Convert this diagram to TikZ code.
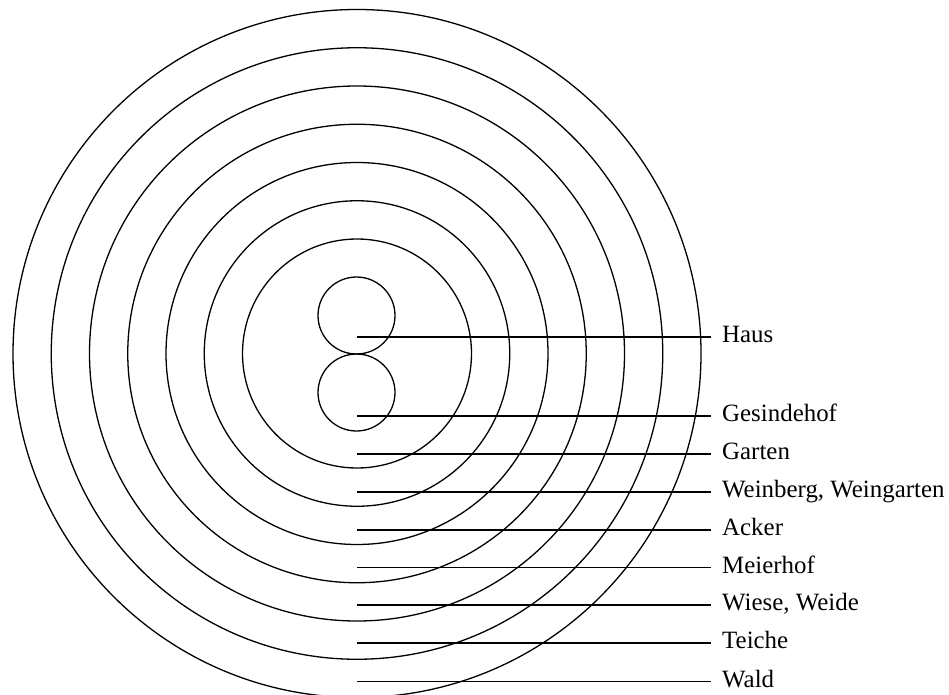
\documentclass[tikz,border=0pt]{standalone}
\usepackage{fontspec}
\setmainfont{Liberation Serif}
\begin{document}
\begin{tikzpicture}[x=1pt,y=-1pt,
  ring/.style={line width=1.3pt},
  leader/.style={line width=1.6pt},
  lab/.style={anchor=west,inner xsep=11pt,inner ysep=0pt,text height=16.5pt,text depth=5pt,font=\fontsize{24.9}{29}\selectfont}]
\useasboundingbox (0,0) rectangle (949,695);
% concentric rings
\foreach \r in {114.5,152.75,191,229.25,267.5,305.75,344}
  \draw[ring] (357,353.5) circle[radius=\r];
% two small circles
\draw[ring] (356.5,315.5) circle[radius=38.5];
\draw[ring] (356.5,392.5) circle[radius=38.5];
% labels
\node[lab] (haus) at (711,337) {Haus};
\node[lab] (gesinde) at (711,416) {Gesindehof};
\node[lab] (garten) at (711,454) {Garten};
\node[lab] (wein) at (711,492) {Weinberg, Weingarten};
\node[lab] (acker) at (711,530) {Acker};
\node[lab] (meier) at (711,567.5) {Meierhof};
\node[lab] (wiese) at (711,605) {Wiese, Weide};
\node[lab] (teiche) at (711,643) {Teiche};
\node[lab] (wald) at (711,681.5) {Wald};
% line starts
\coordinate (s1) at (357,337);
\coordinate (s2) at (357,416);
\coordinate (s3) at (357,454);
\coordinate (s4) at (357,492);
\coordinate (s5) at (357,530);
\coordinate (s6) at (357,567.5);
\coordinate (s7) at (357,605);
\coordinate (s8) at (357,643);
\coordinate (s9) at (357,681.5);
\draw[leader] (s1) -- (haus.west);
\draw[leader] (s2) -- (gesinde.west);
\draw[leader] (s3) -- (garten.west);
\draw[leader] (s4) -- (wein.west);
\draw[leader] (s5) -- (acker.west);
\draw[leader] (s6) -- (meier.west);
\draw[leader] (s7) -- (wiese.west);
\draw[leader] (s8) -- (teiche.west);
\draw[leader] (s9) -- (wald.west);
\end{tikzpicture}
\end{document}
